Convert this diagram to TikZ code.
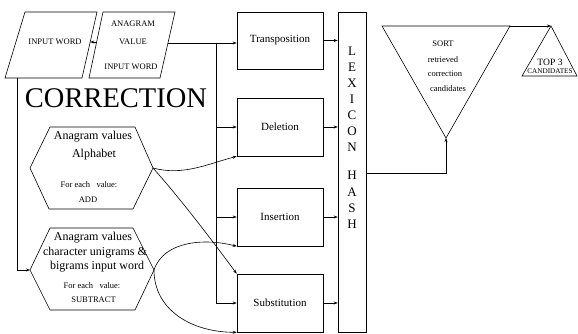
\documentclass[tikz,border=0pt]{standalone}
\usepackage{fontspec}
\setmainfont{Liberation Serif}
\usetikzlibrary{arrows.meta}
\begin{document}
\begin{tikzpicture}[x=1pt,y=-1pt,line width=0.6pt,
  arr/.style={-{Stealth[length=4pt,width=3pt]}},
  opbox/.style={draw,minimum width=86pt,minimum height=57pt,inner sep=0pt,font=\fontsize{11}{13}\selectfont},
  txs/.style={inner sep=0pt,font=\fontsize{8.5}{10}\selectfont},
  txm/.style={inner sep=0pt,font=\fontsize{12}{14}\selectfont}]
\useasboundingbox (0,0) rectangle (578,334);
% parallelograms
\draw (25,12) coordinate (p1tl) -- (97,12) coordinate (p1tr) -- (82,78) coordinate (p1br) -- (5,78) coordinate (p1bl) -- cycle;
\node[txs] (p1t) at (55,42) {INPUT WORD};
\draw (103,12) coordinate (p2tl) -- (175,12) coordinate (p2tr) -- (160,78) coordinate (p2br) -- (89,78) coordinate (p2bl) -- cycle;
\node[txs] (p2a) at (133,24) {ANAGRAM};
\node[txs] (p2b) at (133,42) {VALUE};
\node[txs] (p2c) at (131,67) {INPUT WORD};
\coordinate (p2l) at (96.6,42);
\coordinate (p1r) at (90.2,42);
\draw[arr] (p2l) -- (p1r);
% CORRECTION
\node[inner sep=0pt,font=\fontsize{28.5}{30}\selectfont] (corr) at (116,98.5) {CORRECTION};
% hexagons
\draw (30,168) coordinate (h1l) -- (50,127) -- (135,127) -- (153,168) coordinate (h1r) -- (133,209) -- (49,209) -- cycle;
\node[txm] (h1a) at (93,137) {Anagram values};
\node[txm] (h1b) at (94,155) {Alphabet};
\node[txs] (h1c) at (89,185) {For each\ \ \ value:};
\node[txs] (h1d) at (88,200) {ADD};
\draw (30,270) coordinate (h2l) -- (50,228) -- (133,228) -- (154,270) coordinate (h2r) -- (135,310) -- (50,310) -- cycle;
\node[txm] (h2a) at (93,238) {Anagram values};
\node[txm] (h2b) at (95,253) {character unigrams \&};
\node[txm] (h2c) at (97,267) {bigrams input word};
\node[txs] (h2d) at (92,286) {For each\ \ \ value:};
\node[txs] (h2e) at (93.5,300) {SUBTRACT};
% P1 to hexagon 2
\coordinate (p1b) at (17,78);
\draw[arr] (p1b) |- (h2l);
% operation boxes
\node[opbox] (trans) at (280,40.5) {Transposition};
\node[opbox,minimum height=58pt] (del) at (280,127) {Deletion};
\node[opbox,minimum height=58pt] (ins) at (280,217) {Insertion};
\node[opbox,minimum height=58pt] (sub) at (280,303) {Substitution};
% lexicon
\node[draw,minimum width=28pt,minimum height=320pt,inner sep=0pt] (lex) at (352,172) {};
\node[inner sep=0pt,align=center,font=\fontsize{13}{16.1}\selectfont] (lext) at (352,137.5) {L\\E\\X\\I\\C\\O\\N\\[12pt]H\\A\\S\\H};
% bus
\coordinate (p2r) at (168,43);
\coordinate (bus) at (216,43);
\draw[arr] (p2r) -- (p2r -| trans.west);
\draw (bus) -- (bus |- sub.west);
\draw[arr] (bus |- del.west) -- (del.west);
\draw[arr] (bus |- ins.west) -- (ins.west);
\draw[arr] (bus |- sub.west) -- (sub.west);
% to lexicon
\draw[arr] (trans.east) -- (trans.east -| lex.west);
\draw[arr] (del.east) -- (del.east -| lex.west);
\draw[arr] (ins.east) -- (ins.east -| lex.west);
\draw[arr] (sub.east) -- (sub.east -| lex.west);
% curves from hexagons
\draw[arr] (h1r) .. controls +(30,8) and +(-30,8) .. (del.south west);
\draw[arr] (h1r) .. controls +(25,28) and +(-28,-38) .. (sub.north west);
\draw[arr] (h2r) .. controls +(10,-30) and +(-30,-8) .. (ins.south west);
\draw[arr] (h2r) .. controls +(0,40) and +(-45,0) .. (sub.south west);
% SORT triangle
\draw (382,26) coordinate (stl) -- (510,26) coordinate (str) -- (446,138) coordinate (sapex) -- cycle;
\node[txs] (s1) at (443,44) {SORT};
\node[txs] (s2) at (443,60) {retrieved};
\node[txs] (s3) at (445,74) {correction};
\node[txs] (s4) at (448,89) {candidates};
\coordinate (lexo) at (366,173);
\draw[arr] (lexo) -| (sapex);
% TOP 3 triangle
\draw (551,26) coordinate (tapex) -- (577,76) coordinate (tbr) -- (522,76) coordinate (tbl) -- cycle;
\node[inner sep=0pt,font=\fontsize{9.6}{11}\selectfont] (t1) at (550,62) {TOP 3};
\node[inner sep=0pt,font=\fontsize{7.2}{8}\selectfont] (t2) at (550,71) {CANDIDATES};
\draw[arr] (str) -- (tapex);
\end{tikzpicture}
\end{document}
